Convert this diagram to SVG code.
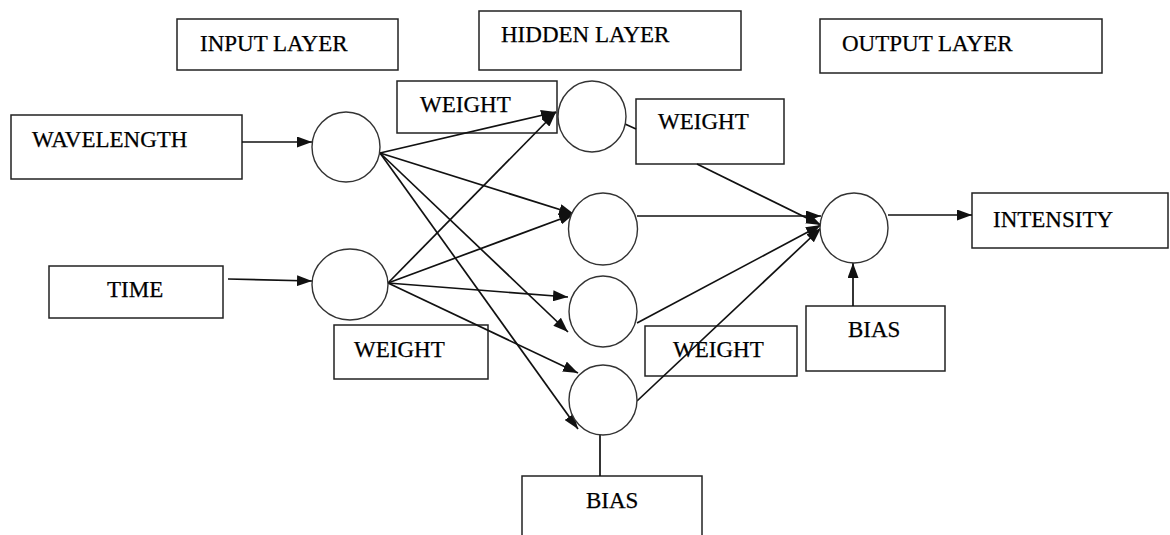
<svg xmlns="http://www.w3.org/2000/svg" width="1170" height="535" viewBox="0 0 1170 535">
<style>
.box{fill:#fff;stroke:#222;stroke-width:1.5}
.node{fill:#fff;stroke:#333;stroke-width:1.4}
.lbl{font-family:"Liberation Serif","Times New Roman",serif;font-size:23px;fill:#000;stroke:#000;stroke-width:0.25}
.edge{fill:none;stroke:#111;stroke-width:1.7}
.arr{marker-end:url(#ah)}
</style>
<defs>
<marker id="ah" viewBox="0 0 15 11" refX="15" refY="5.5" markerWidth="15" markerHeight="11" markerUnits="userSpaceOnUse" orient="auto">
<path d="M0,0 L15,5.5 L0,11 z" fill="#111"/>
</marker>
</defs>
<rect width="1170" height="535" fill="#fff"/>

<g id="input-layer"><rect class="box" x="177" y="19" width="221" height="51"/><text class="lbl" x="200" y="51">INPUT LAYER</text></g>
<g id="hidden-layer"><rect class="box" x="479" y="11" width="262" height="59"/><text class="lbl" x="501" y="42">HIDDEN LAYER</text></g>
<g id="output-layer"><rect class="box" x="820" y="19" width="282" height="54"/><text class="lbl" x="842" y="51">OUTPUT LAYER</text></g>

<g id="wavelength"><rect class="box" x="11" y="115" width="231" height="64"/><text class="lbl" x="32" y="147">WAVELENGTH</text></g>
<g id="time"><rect class="box" x="49" y="266" width="174" height="52"/><text class="lbl" x="107" y="297">TIME</text></g>

<g id="weight-1"><rect class="box" x="397" y="81" width="160" height="52"/><text class="lbl" x="420" y="112">WEIGHT</text></g>
<g id="weight-2"><rect class="box" x="334" y="325" width="154" height="54"/><text class="lbl" x="354" y="357">WEIGHT</text></g>
<g id="weight-3"><rect class="box" x="636" y="99" width="148" height="65"/><text class="lbl" x="658" y="129">WEIGHT</text></g>
<g id="weight-4"><rect class="box" x="645" y="326" width="152" height="50"/><text class="lbl" x="673" y="357">WEIGHT</text></g>

<g id="bias-hidden"><rect class="box" x="522" y="476" width="180" height="70"/><text class="lbl" x="586" y="508">BIAS</text></g>
<g id="bias-output"><rect class="box" x="806" y="306" width="139" height="65"/><text class="lbl" x="848" y="337">BIAS</text></g>
<g id="intensity"><rect class="box" x="972" y="193" width="196" height="55"/><text class="lbl" x="993" y="227">INTENSITY</text></g>

<g id="connectors">
<line class="edge arr" x1="242" y1="142" x2="312" y2="142"/>
<line class="edge arr" x1="228" y1="279" x2="312" y2="281"/>
<line class="edge arr" x1="380" y1="153" x2="556" y2="112"/>
<line class="edge arr" x1="380" y1="153" x2="574" y2="214"/>
<line class="edge arr" x1="380" y1="153" x2="568" y2="332"/>
<line class="edge arr" x1="380" y1="153" x2="578" y2="429"/>
<line class="edge arr" x1="388" y1="283" x2="556" y2="112"/>
<line class="edge arr" x1="388" y1="283" x2="574" y2="214"/>
<line class="edge arr" x1="388" y1="283" x2="568" y2="297"/>
<line class="edge arr" x1="388" y1="283" x2="578" y2="373"/>
<line class="edge" x1="625" y1="124" x2="636" y2="129"/>
<line class="edge arr" x1="697" y1="164" x2="821" y2="225"/>
<line class="edge arr" x1="637" y1="216" x2="821" y2="216"/>
<line class="edge arr" x1="637" y1="323" x2="821" y2="225"/>
<line class="edge arr" x1="637" y1="401" x2="821" y2="228"/>
<line class="edge" x1="600" y1="435" x2="600" y2="476"/>
<line class="edge arr" x1="853" y1="306" x2="853" y2="263"/>
<line class="edge arr" x1="888" y1="215" x2="972" y2="215"/>
</g>

<g id="in-1"><ellipse class="node" cx="346" cy="147" rx="34" ry="35"/></g>
<g id="in-2"><ellipse class="node" cx="350" cy="284.5" rx="38" ry="35.5"/></g>
<g id="hid-1"><ellipse class="node" cx="592" cy="116.5" rx="34" ry="35.5"/></g>
<g id="hid-2"><ellipse class="node" cx="603" cy="229" rx="34.5" ry="36"/></g>
<g id="hid-3"><ellipse class="node" cx="603" cy="311.5" rx="34" ry="35.5"/></g>
<g id="hid-4"><ellipse class="node" cx="603" cy="400" rx="34" ry="35"/></g>
<g id="out-1"><ellipse class="node" cx="854" cy="228" rx="34" ry="35"/></g>
</svg>
